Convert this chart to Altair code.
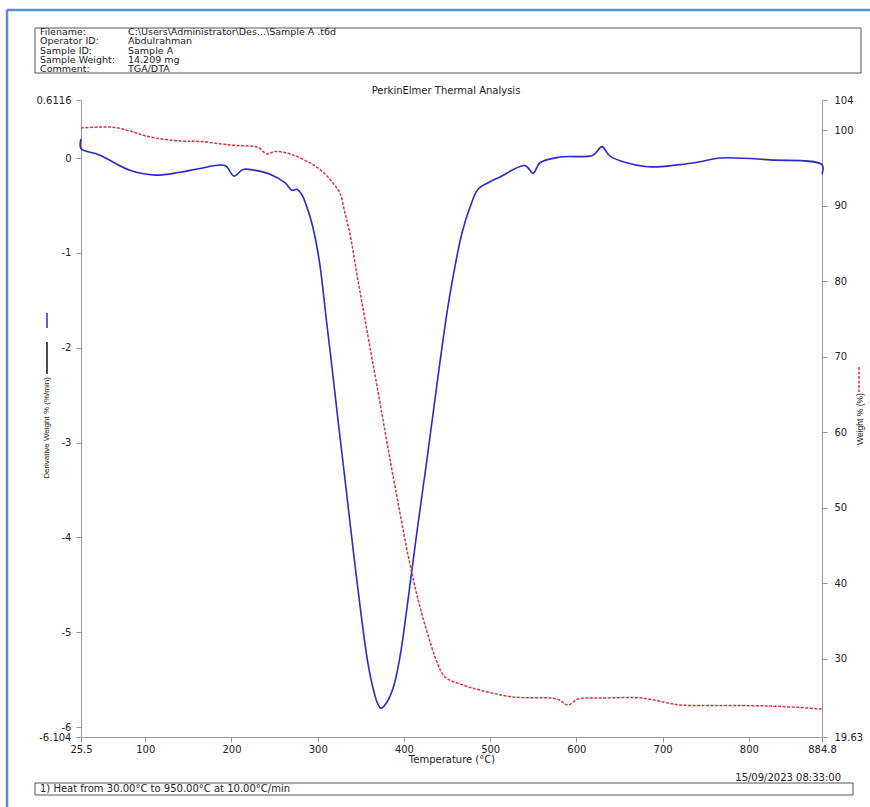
import altair as alt
import pandas as pd

# ---- DTG curve: derivative weight (%/min) vs temperature (°C) ----
dtg_temp = [25.5, 25.5, 47.5, 82.3, 111.3, 140.3, 163.5, 192.5, 202.9, 213.4,
            227.3, 244.7, 262.1, 270.2, 276.0, 281.8, 291.1, 296.8, 302.6, 309.6,
            316.6, 323.5, 330.5, 337.4, 344.4, 351.4, 358.3, 365.3, 369.9, 373.4,
            380.0, 387.7, 395.4, 402.4, 409.3, 417.5, 425.6, 433.7, 441.8, 449.9,
            458.0, 467.3, 476.6, 485.9, 499.8, 511.4, 540.4, 549.7, 557.8, 581.0,
            619.2, 629.7, 638.9, 679.5, 720.1, 743.3, 766.5, 824.5, 884.8, 884.8]
dtg_value = [0.20, 0.10, 0.03, -0.13, -0.18, -0.15, -0.11, -0.08, -0.19, -0.12,
             -0.13, -0.17, -0.26, -0.34, -0.33, -0.39, -0.62, -0.83, -1.13, -1.67,
             -2.21, -2.76, -3.30, -3.84, -4.38, -4.89, -5.33, -5.63, -5.76, -5.80,
             -5.74, -5.58, -5.26, -4.82, -4.34, -3.78, -3.25, -2.70, -2.15, -1.63,
             -1.20, -0.79, -0.52, -0.33, -0.25, -0.20, -0.08, -0.16, -0.05, 0.01,
             0.03, 0.12, 0.02, -0.09, -0.07, -0.04, 0.00, -0.02, -0.07, -0.17]

# ---- TGA curve: weight (%) vs temperature (°C) ----
tga_temp = [25.5, 47.5, 64.9, 82.3, 105.5, 140.3, 163.5, 198.3, 230.8, 241.2,
            250.5, 267.9, 291.1, 306.1, 317.7, 325.8, 331.6, 337.4, 345.6, 353.7,
            361.8, 370.0, 378.0, 386.1, 394.3, 402.4, 410.5, 418.6, 427.9, 438.3,
            447.6, 468.5, 488.2, 526.5, 577.5, 590.2, 601.8, 630.8, 676.1, 706.2,
            720.1, 745.6, 822.2, 884.8]
tga_value = [100.29, 100.42, 100.36, 99.89, 99.10, 98.57, 98.50, 98.04, 97.71, 96.85,
             97.18, 96.85, 95.66, 94.46, 93.01, 91.68, 89.03, 86.25, 80.82, 75.66,
             70.49, 65.32, 60.16, 55.00, 49.96, 45.06, 40.69, 36.85, 33.14, 29.56,
             27.58, 26.52, 25.85, 24.93, 24.66, 23.87, 24.66, 24.79, 24.79, 24.13,
             23.87, 23.80, 23.74, 23.34]

# ---- axis ticks ----
x_ticks = [25.5, 100, 200, 300, 400, 500, 600, 700, 800, 884.8]
left_ticks = [0.6116, 0, -1, -2, -3, -4, -5, -6, -6.104]
right_ticks = [104, 100, 90, 80, 70, 60, 50, 40, 30, 19.63]

# ---- report texts ----
header_labels = ["Filename:", "Operator ID:", "Sample ID:", "Sample Weight:", "Comment:"]
header_values = ["C:\\Users\\Administrator\\Des...\\Sample A .t6d", "Abdulrahman",
                 "Sample A", "14.209 mg", "TGA/DTA"]
chart_title = "PerkinElmer Thermal Analysis"
method_text = "1)  Heat from 30.00°C to 950.00°C at 10.00°C/min"
timestamp = "15/09/2023 08:33:00"

FONT = "DejaVu Sans"
SIDE_FONT = "Liberation Sans"
BLUE = "#2a2ac8"
RED = "#e0323c"
AXIS_GREY = "#9a9a9a"
TXT = "#222222"
W, H = 741, 637

dtg = pd.DataFrame({"temp": dtg_temp, "dtg": dtg_value, "i": range(len(dtg_temp))})
tga = pd.DataFrame({"temp": tga_temp, "wt": tga_value, "i": range(len(tga_temp))})

x_scale = alt.Scale(domain=[25.5, 884.8], nice=False, zero=False)

x_axis = alt.Axis(values=x_ticks, labelExpr="'' + datum.value", title="Temperature (°C)",
                  titleY=22, titleBaseline="middle", titleFontWeight="normal",
                  titleFontSize=10, titleColor=TXT, labelFontSize=10, labelColor=TXT,
                  labelFlush=False, labelOverlap=False, grid=False, tickSize=5,
                  labelPadding=2, domainColor=AXIS_GREY, tickColor=AXIS_GREY)

dtg_line = alt.Chart(dtg).mark_line(color=BLUE, strokeWidth=1.6,
                                    interpolate="catmull-rom").encode(
    x=alt.X("temp:Q", scale=x_scale, axis=x_axis),
    y=alt.Y("dtg:Q", scale=alt.Scale(domain=[-6.104, 0.6116], nice=False, zero=False),
            axis=alt.Axis(values=left_ticks, labelExpr="'' + datum.value", title=None,
                          labelFontSize=10, labelColor=TXT, labelOverlap=False,
                          labelFlush=False, grid=False, tickSize=5, labelPadding=5,
                          domainColor=AXIS_GREY, tickColor=AXIS_GREY)),
    order="i:Q",
)

tga_line = alt.Chart(tga).mark_line(color=RED, strokeWidth=1.5, strokeDash=[3, 1.5],
                                    interpolate="catmull-rom").encode(
    x=alt.X("temp:Q", scale=x_scale, axis=x_axis),
    y=alt.Y("wt:Q", scale=alt.Scale(domain=[19.63, 104], nice=False, zero=False),
            axis=alt.Axis(orient="right", values=right_ticks, labelExpr="'' + datum.value",
                          title=None, labelFontSize=10, labelColor=TXT,
                          labelOverlap=False, labelFlush=False, grid=False, tickSize=5,
                          labelPadding=7, domainColor=AXIS_GREY, tickColor=AXIS_GREY)),
    order="i:Q",
)

anchor = pd.DataFrame({"k": [0]})
base = alt.Chart(anchor)


def text(txt, x, y, align="left", baseline="middle", size=10, angle=0, font=FONT):
    kw = dict(align=align, baseline=baseline, fontSize=size, font=font, color=TXT)
    if angle:
        kw["angle"] = angle
    return base.mark_text(**kw).encode(x=alt.value(x), y=alt.value(y), text=alt.value(txt))


def box(x0, x1, y0, y1):
    return base.mark_rect(fill="white", stroke="#555", strokeWidth=1).encode(
        x=alt.value(x0), x2=alt.value(x1), y=alt.value(y0), y2=alt.value(y1))


def vrule(x, y0, y1, color, width=1.5, dash=None):
    kw = dict(color=color, strokeWidth=width)
    if dash:
        kw["strokeDash"] = dash
    return base.mark_rule(**kw).encode(x=alt.value(x), y=alt.value(y0), y2=alt.value(y1))


def hrule(x0, x1, y, color, width=1.5):
    return base.mark_rule(color=color, strokeWidth=width).encode(
        x=alt.value(x0), x2=alt.value(x1), y=alt.value(y))


# page frame (top and left edges)
frame = hrule(-74, 789, -90, "#5b8bd0", 2.5) + vrule(-74, -90, 707, "#5b8bd0", 2.5)

# report header: one text mark per row
row_y = [-67.8, -58.6, -49.4, -40.2, -31.0]
header = box(-46, 780, -72, -27)
for lab, val, yy in zip(header_labels, header_values, row_y):
    header = header + text(lab, -41, yy, size=9.5) + text(val, 47, yy, size=9.5)

title = text(chart_title, 365, -9, align="center")

# y-axis titles with line-style keys
left_title = (vrule(-34, 213, 228, BLUE)
              + vrule(-34, 242, 274, "#111")
              + text("Derivative Weight % (%/min)", -34, 328, align="center", size=8,
                     angle=270, font=SIDE_FONT))
right_title = (vrule(778, 267, 292, RED, dash=[3, 1.5])
               + text("Weight % (%)", 779, 319, align="center", size=8.5, angle=270,
                      font=SIDE_FONT))

# footer
footer = (text(timestamp, 760, 678, align="right")
          + box(-46, 772, 683, 695)
          + text(method_text, -41, 689))

curves = alt.layer(dtg_line, tga_line).resolve_scale(y="independent")

chart = alt.layer(
    curves, frame, header, title, left_title, right_title, footer
).properties(
    width=W, height=H,
    autosize=alt.AutoSizeParams(type="none"),
    padding={"left": 81, "top": 100, "right": 48, "bottom": 70},
    background="white",
).configure(font=FONT).configure_view(stroke=None)

chart.save("out.html", embed_options={"renderer": "svg", "actions": False})
